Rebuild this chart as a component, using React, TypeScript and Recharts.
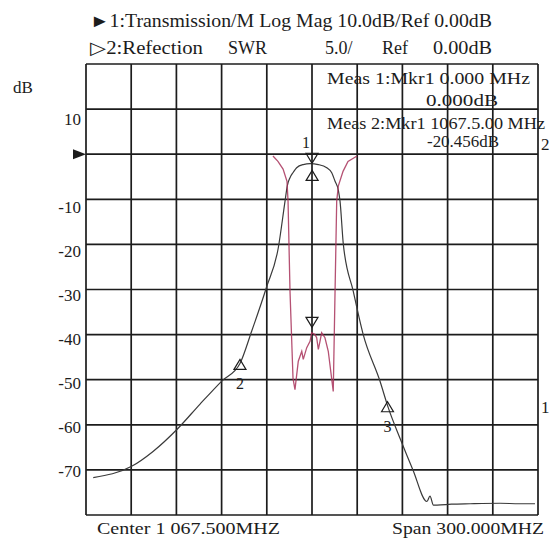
import { ComposedChart, Line, Scatter, XAxis, YAxis, CartesianGrid } from 'recharts';

// Center 1067.5 MHz, span 300 MHz -> 30 MHz per division
const freqTicks = [917.5, 947.5, 977.5, 1007.5, 1037.5, 1067.5, 1097.5, 1127.5, 1157.5, 1187.5, 1217.5];
const dbTicks = [20, 10, 0, -10, -20, -30, -40, -50, -60, -70, -80];
const dbLabels = [10, -10, -20, -30, -40, -50, -60, -70];

// trace 1: transmission, log mag (dB)
const transmission = [
  { f: 922.3, db: -71.7 },
  { f: 947.8, db: -69.2 },
  { f: 962.0, db: -65.9 },
  { f: 978.8, db: -60.7 },
  { f: 993.2, db: -55.4 },
  { f: 1007.6, db: -50.3 },
  { f: 1019.7, db: -46.4 },
  { f: 1027.5, db: -39.2 },
  { f: 1037.2, db: -29.6 },
  { f: 1045.1, db: -20.8 },
  { f: 1049.6, db: -10.4 },
  { f: 1051.1, db: -7.0 },
  { f: 1052.9, db: -5.2 },
  { f: 1055.1, db: -4.0 },
  { f: 1057.3, db: -3.0 },
  { f: 1061.7, db: -2.3 },
  { f: 1066.2, db: -2.1 },
  { f: 1071.7, db: -2.3 },
  { f: 1077.3, db: -3.0 },
  { f: 1080.6, db: -4.1 },
  { f: 1082.8, db: -6.0 },
  { f: 1085.0, db: -8.0 },
  { f: 1086.1, db: -10.4 },
  { f: 1088.3, db: -20.0 },
  { f: 1094.9, db: -30.4 },
  { f: 1101.5, db: -40.0 },
  { f: 1112.6, db: -50.3 },
  { f: 1118.1, db: -56.2 },
  { f: 1125.9, db: -63.0 },
  { f: 1134.5, db: -70.0 },
  { f: 1143.8, db: -77.0 },
  { f: 1145.8, db: -75.8 },
  { f: 1148.1, db: -77.8 },
  { f: 1150.5, db: -77.8 },
  { f: 1160.0, db: -77.6 },
  { f: 1172.4, db: -77.5 },
  { f: 1192.3, db: -77.4 },
  { f: 1205.0, db: -77.5 },
  { f: 1215.5, db: -77.5 },
];

// trace 2: reflection
const reflection = [
  { f: 1041.6, db: -0.4 },
  { f: 1044.9, db: -1.6 },
  { f: 1048.3, db: -3.3 },
  { f: 1050.9, db: -6.0 },
  { f: 1051.6, db: -10.4 },
  { f: 1052.9, db: -30.4 },
  { f: 1054.9, db: -49.7 },
  { f: 1056.2, db: -52.2 },
  { f: 1058.4, db: -45.9 },
  { f: 1060.7, db: -43.7 },
  { f: 1061.7, db: -45.5 },
  { f: 1064.0, db: -42.9 },
  { f: 1066.2, db: -41.5 },
  { f: 1067.3, db: -39.6 },
  { f: 1069.5, db: -40.0 },
  { f: 1070.6, db: -40.7 },
  { f: 1071.7, db: -43.3 },
  { f: 1072.8, db: -41.5 },
  { f: 1073.9, db: -39.6 },
  { f: 1076.1, db: -40.7 },
  { f: 1078.3, db: -43.7 },
  { f: 1081.6, db: -52.6 },
  { f: 1082.8, db: -30.4 },
  { f: 1083.9, db: -10.4 },
  { f: 1085.0, db: -7.0 },
  { f: 1088.1, db: -3.8 },
  { f: 1091.4, db: -1.6 },
  { f: 1097.4, db: -0.4 },
];

const upMarkers = [
  { f: 1019.7, db: -46.6, label: '2' },
  { f: 1117.6, db: -56.0, label: '3' },
  { f: 1067.6, db: -4.7, label: '' },
];
const downMarkers = [
  { f: 1067.5, db: -0.9, label: '1' },
  { f: 1067.5, db: -37.3, label: '' },
];

const serif = '"Liberation Serif", "Times New Roman", serif';
const ink = '#1c1c1c';

function DbTick({ x, y, payload }: any) {
  const v = payload.value;
  if (v === 0) {
    return <polygon points={`${x - 8},${y - 5} ${x + 5},${y} ${x - 8},${y + 5}`} fill={ink} />;
  }
  if (!dbLabels.includes(v)) return null;
  const shift = 1 + (v + 70) * 0.11;
  return (
    <text x={x} y={y + shift + 6} textAnchor="end" fontFamily={serif} fontSize={17} fill={ink}>
      {v}
    </text>
  );
}

function UpTri({ cx, cy, payload }: any) {
  return (
    <g>
      <polygon
        points={`${cx - 6},${cy + 5} ${cx},${cy - 5} ${cx + 6},${cy + 5}`}
        fill="none"
        stroke={ink}
        strokeWidth={1.2}
      />
      {payload.label && (
        <text x={cx} y={cy + 25} textAnchor="middle" fontFamily={serif} fontSize={16} fill={ink}>
          {payload.label}
        </text>
      )}
    </g>
  );
}

function DownTri({ cx, cy, payload }: any) {
  return (
    <g>
      <polygon
        points={`${cx - 6},${cy - 5} ${cx},${cy + 5} ${cx + 6},${cy - 5}`}
        fill="none"
        stroke={ink}
        strokeWidth={1.2}
      />
      {payload.label && (
        <text x={cx - 6} y={cy - 10} textAnchor="middle" fontFamily={serif} fontSize={16} fill={ink}>
          {payload.label}
        </text>
      )}
    </g>
  );
}

export default function App() {
  return (
    <div style={{ position: 'absolute', left: 0, top: 0, width: 551, height: 541, background: '#fff' }}>
      <ComposedChart width={551} height={541} margin={{ top: 64, right: 13, bottom: 26, left: 0 }}>
        <CartesianGrid stroke={ink} strokeWidth={1.7} />
        <XAxis
          dataKey="f"
          type="number"
          domain={[917.5, 1217.5]}
          ticks={freqTicks}
          interval={0}
          hide
        />
        <YAxis
          dataKey="db"
          type="number"
          domain={[-80, 20]}
          ticks={dbTicks}
          width={86}
          axisLine={false}
          tickLine={false}
          tickSize={0}
          tickMargin={5}
          tick={<DbTick />}
          interval={0}
        />
        <Line
          data={transmission}
          dataKey="db"
          type="monotone"
          stroke="#3a3a3a"
          strokeWidth={1.2}
          dot={false}
          isAnimationActive={false}
        />
        <Line
          data={reflection}
          dataKey="db"
          type="linear"
          stroke="#a8325a"
          strokeOpacity={0.85}
          strokeWidth={1.3}
          dot={false}
          isAnimationActive={false}
        />
        <Scatter data={upMarkers} dataKey="db" shape={<UpTri />} isAnimationActive={false} />
        <Scatter data={downMarkers} dataKey="db" shape={<DownTri />} isAnimationActive={false} />
      </ComposedChart>
      <svg
        width={551}
        height={541}
        style={{ position: 'absolute', left: 0, top: 0, pointerEvents: 'none' }}
        fontFamily={serif}
        fill={ink}
      >
        <text x={90} y={27} fontSize={18} textLength={402} lengthAdjust="spacingAndGlyphs">
          ►1:Transmission/M Log Mag 10.0dB/Ref 0.00dB
        </text>
        <text x={90} y={54} fontSize={18} textLength={113} lengthAdjust="spacingAndGlyphs">
          ▷2:Refection
        </text>
        <text x={228} y={54} fontSize={18}>SWR</text>
        <text x={325} y={54} fontSize={18}>5.0/</text>
        <text x={382} y={54} fontSize={18}>Ref</text>
        <text x={433} y={54} fontSize={18} textLength={59} lengthAdjust="spacingAndGlyphs">0.00dB</text>
        <text x={13} y={93} fontSize={17}>dB</text>
        <text x={327} y={84} fontSize={17} textLength={203} lengthAdjust="spacingAndGlyphs">
          Meas 1:Mkr1 0.000 MHz
        </text>
        <text x={426} y={106} fontSize={17} textLength={72} lengthAdjust="spacingAndGlyphs">
          0.000dB
        </text>
        <text x={327} y={129} fontSize={17} textLength={218} lengthAdjust="spacingAndGlyphs">
          Meas 2:Mkr1 1067.5.00 MHz
        </text>
        <text x={427} y={147} fontSize={17} textLength={72} lengthAdjust="spacingAndGlyphs">
          -20.456dB
        </text>
        <text x={541} y={150} fontSize={17}>2</text>
        <text x={541} y={413} fontSize={17}>1</text>
        <text x={97} y={534} fontSize={17} textLength={183} lengthAdjust="spacingAndGlyphs">
          Center 1 067.500MHZ
        </text>
        <text x={392} y={534} fontSize={17} textLength={152} lengthAdjust="spacingAndGlyphs">
          Span 300.000MHZ
        </text>
      </svg>
    </div>
  );
}
